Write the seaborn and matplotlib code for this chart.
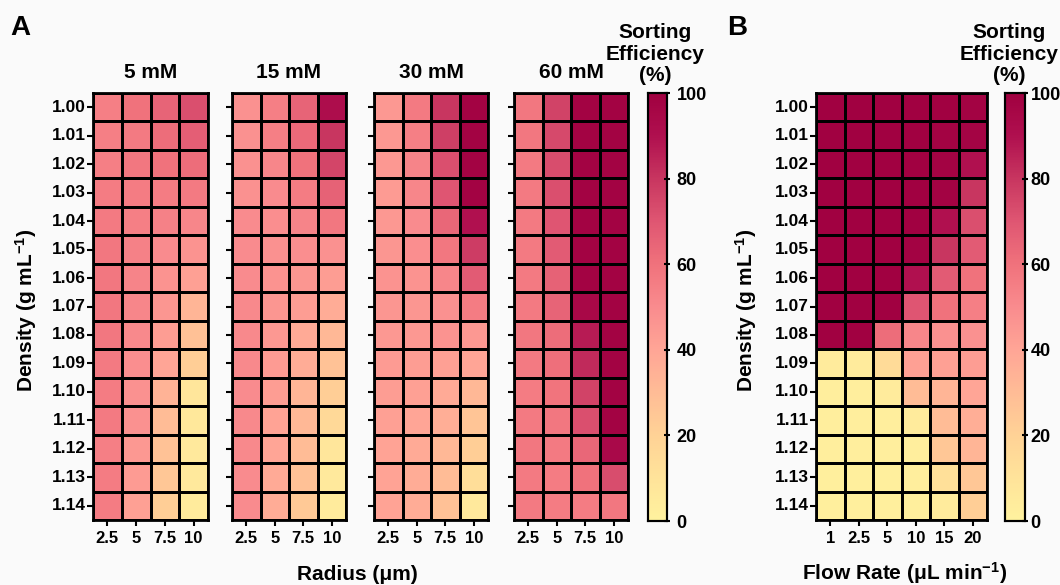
import numpy as np
import pandas as pd
import matplotlib
matplotlib.use('Agg')
import matplotlib.pyplot as plt
from matplotlib.colors import LinearSegmentedColormap
import seaborn as sns

densities = ['1.00', '1.01', '1.02', '1.03', '1.04', '1.05', '1.06', '1.07',
             '1.08', '1.09', '1.10', '1.11', '1.12', '1.13', '1.14']
radii = ['2.5', '5', '7.5', '10']
flow_rates = ['1', '2.5', '5', '10', '15', '20']
concentrations = ['5 mM', '15 mM', '30 mM', '60 mM']

# sorting efficiency (%) per density row, radius columns
eff_5mM = [
    [55, 60, 65, 72], [55, 57, 62, 67], [55, 58, 60, 62], [56, 56, 56, 57],
    [57, 55, 54, 52], [58, 54, 50, 47], [58, 53, 47, 42], [58, 52, 46, 33],
    [58, 51, 43, 28], [57, 49, 40, 22], [56, 48, 34, 8], [57, 48, 30, 7],
    [55, 45, 27, 6], [56, 44, 25, 6], [56, 42, 22, 5],
]
eff_15mM = [
    [48, 55, 65, 92], [48, 55, 63, 80], [48, 52, 60, 75], [48, 50, 56, 66],
    [50, 49, 53, 58], [50, 48, 49, 48], [50, 47, 46, 43], [51, 46, 43, 37],
    [51, 45, 38, 32], [51, 44, 37, 27], [50, 43, 33, 22], [51, 41, 32, 16],
    [51, 40, 30, 8], [50, 38, 28, 6], [50, 37, 24, 5],
]
eff_30mM = [
    [45, 57, 80, 98], [45, 55, 77, 98], [45, 53, 72, 98], [44, 52, 70, 98],
    [45, 50, 64, 90], [46, 49, 58, 78], [47, 47, 52, 68], [46, 46, 48, 56],
    [45, 45, 47, 45], [44, 43, 42, 40], [43, 42, 38, 32], [42, 40, 36, 26],
    [41, 38, 32, 22], [41, 37, 30, 13], [41, 37, 28, 6],
]
eff_60mM = [
    [58, 76, 98, 98], [58, 74, 98, 98], [57, 73, 98, 98], [57, 72, 98, 98],
    [57, 70, 98, 98], [57, 68, 98, 98], [57, 66, 98, 98], [57, 65, 95, 98],
    [58, 62, 87, 98], [57, 61, 83, 98], [56, 59, 76, 98], [57, 58, 72, 98],
    [58, 57, 64, 94], [57, 56, 60, 73], [57, 56, 56, 58],
]
# panel B: density rows, flow-rate columns
eff_flow = [
    [99, 99, 99, 99, 99, 98], [99, 99, 99, 99, 98, 97], [99, 99, 99, 99, 98, 90],
    [99, 99, 99, 99, 98, 80], [99, 99, 99, 99, 90, 72], [99, 99, 99, 98, 80, 68],
    [99, 99, 99, 90, 68, 60], [99, 99, 99, 70, 60, 55], [99, 99, 62, 52, 48, 48],
    [5, 5, 15, 42, 42, 43], [3, 3, 5, 30, 33, 40], [3, 3, 3, 5, 30, 36],
    [3, 3, 3, 3, 25, 33], [2, 2, 2, 3, 12, 25], [2, 2, 2, 2, 5, 22],
]

cmap = LinearSegmentedColormap.from_list('sorting', [
    (0.0, '#FFF29E'), (0.1, '#FFE39A'), (0.2, '#FFD296'), (0.3, '#FFBC96'),
    (0.4, '#FFA596'), (0.5, '#F98C8E'), (0.6, '#F0727C'), (0.7, '#DF5672'),
    (0.8, '#C83660'), (0.9, '#B0104F'), (1.0, '#A00040')])

W, H = 1060, 585
plt.rcParams['font.family'] = ['Liberation Sans', 'DejaVu Sans']
plt.rcParams['font.weight'] = 'bold'
plt.rcParams['mathtext.fontset'] = 'custom'
plt.rcParams['mathtext.rm'] = 'Liberation Sans:bold'
plt.rcParams['mathtext.bf'] = 'Liberation Sans:bold'
plt.rcParams['mathtext.default'] = 'bf'
fig = plt.figure(figsize=(W / 100, H / 100), dpi=100, facecolor='#fafafa')


def px(x0, y0, x1, y1):
    return [x0 / W, 1 - y1 / H, (x1 - x0) / W, (y1 - y0) / H]


def style_map(ax, show_labels):
    for sp in ax.spines.values():
        sp.set_visible(True)
        sp.set_linewidth(2)
        sp.set_color('black')
    ax.tick_params(axis='y', length=4, width=1.5, labelsize=12.5, rotation=0,
                   labelleft=show_labels, pad=1)
    ax.tick_params(axis='x', length=4, width=1.5, labelsize=12, rotation=0, pad=4)
    for t in ax.get_xticklabels() + ax.get_yticklabels():
        t.set_fontweight('bold')
    ax.set_xlabel('')
    ax.set_ylabel('')


def style_cbar(cax, pad=5):
    cax.set_yticks([0, 20, 40, 60, 80, 100])
    cax.tick_params(length=4, width=1.5, labelsize=13, pad=pad, direction='inout')
    for t in cax.get_yticklabels():
        t.set_fontweight('bold')
    for sp in cax.spines.values():
        sp.set_visible(True)
        sp.set_linewidth(1.5)


# panel A
a_boxes = [(93, 208), (232, 346), (374, 488), (514, 628)]
a_data = [eff_5mM, eff_15mM, eff_30mM, eff_60mM]
cax_a = fig.add_axes(px(648, 93, 667, 521))
for i, ((x0, x1), vals, name) in enumerate(zip(a_boxes, a_data, concentrations)):
    ax = fig.add_axes(px(x0, 93, x1, 520))
    df = pd.DataFrame(vals, index=densities, columns=radii)
    sns.heatmap(df, ax=ax, cmap=cmap, vmin=0, vmax=100, linewidths=1,
                linecolor='black', cbar=(i == 0), cbar_ax=cax_a if i == 0 else None)
    style_map(ax, i == 0)
    ax.set_title(name, fontsize=15, fontweight='bold', pad=11)
style_cbar(cax_a)

# panel B
ax_b = fig.add_axes(px(816, 93, 987, 520))
cax_b = fig.add_axes(px(1005, 93, 1025, 521))
df_b = pd.DataFrame(eff_flow, index=densities, columns=flow_rates)
sns.heatmap(df_b, ax=ax_b, cmap=cmap, vmin=0, vmax=100, linewidths=1,
            linecolor='black', cbar_ax=cax_b)
style_map(ax_b, True)
style_cbar(cax_b, pad=2)

# labels
fig.text(10 / W, 1 - 28 / H, 'A', fontsize=20, fontweight='bold', va='center')
fig.text(727 / W, 1 - 28 / H, 'B', fontsize=20, fontweight='bold', va='center')
fig.text(26 / W, 1 - 310 / H, 'Density (g mL$^{-1}$)', rotation=90,
         fontsize=15, fontweight='bold', ha='center', va='center')
fig.text(746 / W, 1 - 310 / H, 'Density (g mL$^{-1}$)', rotation=90,
         fontsize=15, fontweight='bold', ha='center', va='center')
fig.text(357 / W, 1 - 574 / H, 'Radius (μm)', fontsize=15, fontweight='bold',
         ha='center', va='center')
fig.text(905 / W, 1 - 573 / H, 'Flow Rate (μL min$^{-1}$)', fontsize=15,
         fontweight='bold', ha='center', va='center')
fig.text(655 / W, 1 - 54 / H, 'Sorting\nEfficiency\n(%)', fontsize=15,
         fontweight='bold', ha='center', va='center', linespacing=1.15)
fig.text(1009 / W, 1 - 54 / H, 'Sorting\nEfficiency\n(%)', fontsize=15,
         fontweight='bold', ha='center', va='center', linespacing=1.15)

fig.savefig('out.png', dpi=100, facecolor=fig.get_facecolor())
